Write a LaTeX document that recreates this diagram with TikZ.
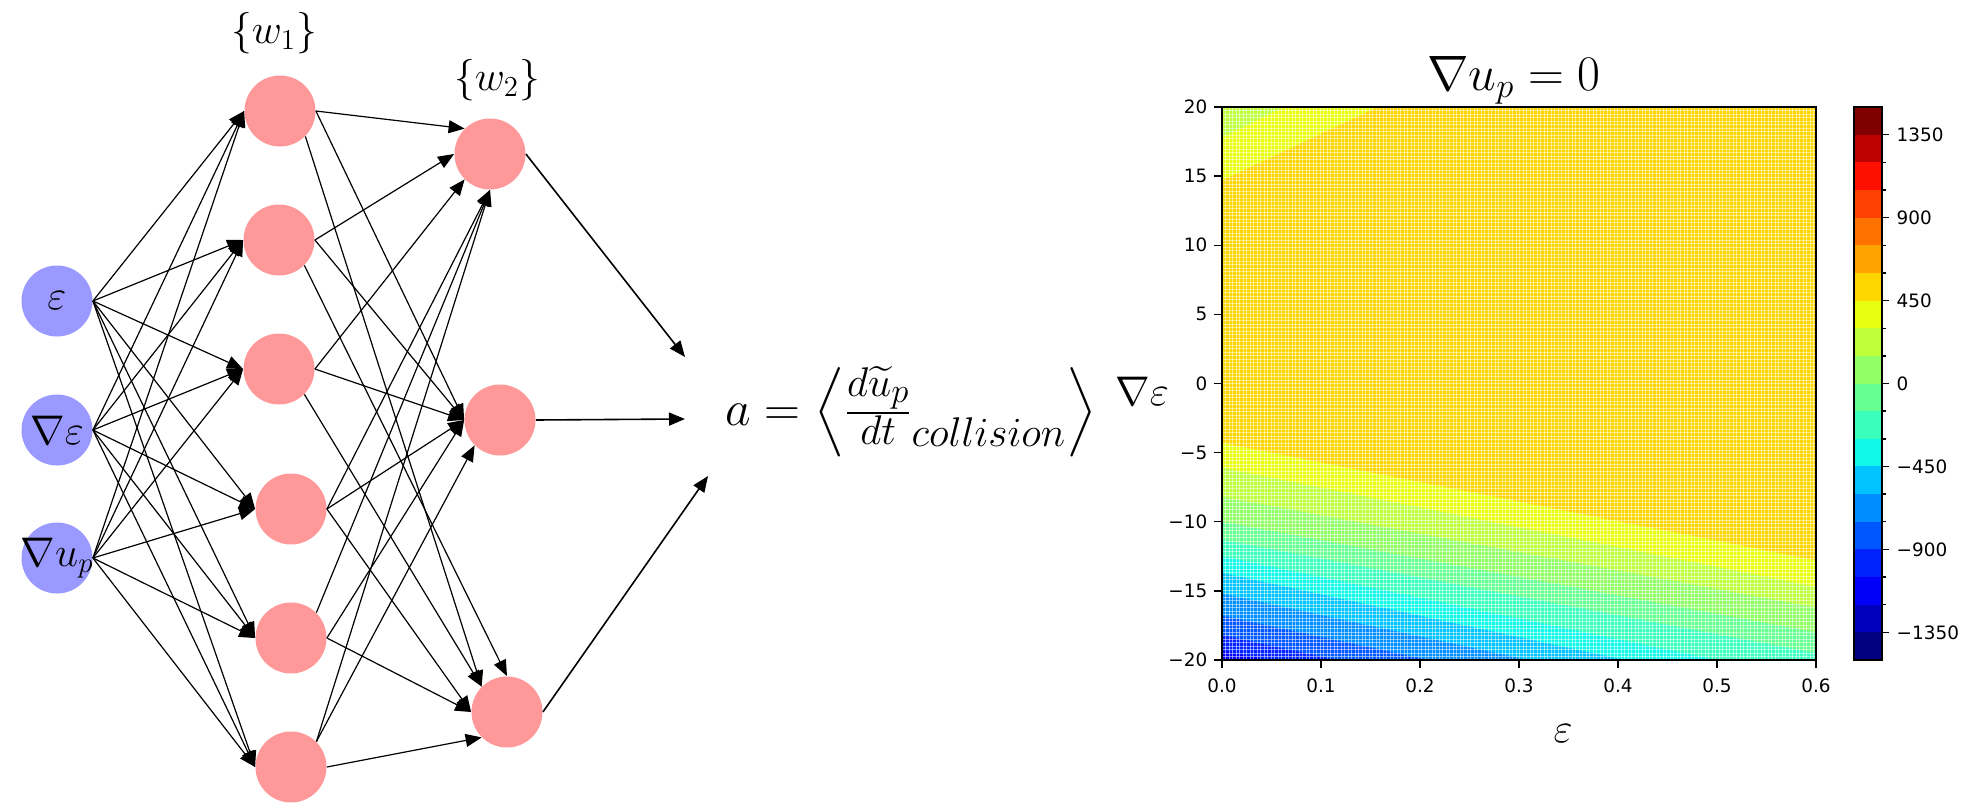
\documentclass[tikz,border=0pt]{standalone}
\usepackage{exscale}
\usepackage{fontspec}
\newfontfamily\tickfont{DejaVu Sans}
\usetikzlibrary{arrows.meta}

\definecolor{inblue}{HTML}{9999FF}
\definecolor{hidpink}{HTML}{FF9999}
% jet levels, -1500 ... 1500 in steps of 150
\definecolor{lev0}{RGB}{0,0,128}
\definecolor{lev1}{RGB}{0,0,188}
\definecolor{lev2}{RGB}{0,0,249}
\definecolor{lev3}{RGB}{0,34,255}
\definecolor{lev4}{RGB}{0,87,255}
\definecolor{lev5}{RGB}{0,141,255}
\definecolor{lev6}{RGB}{0,195,255}
\definecolor{lev7}{RGB}{15,248,232}
\definecolor{lev8}{RGB}{58,255,188}
\definecolor{lev9}{RGB}{102,255,145}
\definecolor{lev10}{RGB}{145,255,102}
\definecolor{lev11}{RGB}{188,255,58}
\definecolor{lev12}{RGB}{232,255,15}
\definecolor{lev13}{RGB}{255,213,0}
\definecolor{lev14}{RGB}{255,163,0}
\definecolor{lev15}{RGB}{255,114,0}
\definecolor{lev16}{RGB}{255,64,0}
\definecolor{lev17}{RGB}{255,15,0}
\definecolor{lev18}{RGB}{189,0,0}
\definecolor{lev19}{RGB}{128,0,0}

\tikzset{
  neuron/.style={circle, minimum size=35.5pt, inner sep=0pt, font=\fontsize{20}{24}\selectfont},
  inp/.style={neuron, fill=inblue},
  hid/.style={neuron, fill=hidpink},
  link/.style={line width=0.6pt, -{Triangle[length=8pt, width=6.5pt]}},
  bigmath/.style={font=\fontsize{#1}{#1}\selectfont, inner sep=0pt},
  ticklab/.style={font=\tickfont\fontsize{9.2}{11}\selectfont, inner sep=0pt},
  axisline/.style={line width=0.7pt},
  dotgap/.style={white, line width=0.45pt, opacity=0.5},
}

\begin{document}
\begin{tikzpicture}[x=0.5pt, y=-0.5pt]
  \useasboundingbox (0,0) rectangle (1970,803);

  % inputs
  \node[inp] (in1) at (57,301) {$\varepsilon$};
  \node[inp] (in2) at (57,430) {$\nabla\varepsilon$};
  \node[inp] (in3) at (57,558) {\makebox[0pt]{$\nabla u_p$}};

  % first hidden layer
  \foreach \n/\x/\y in {1/280/111, 2/279/240, 3/279/369, 4/291/509, 5/291/638, 6/291/767}
    \node[hid] (ha\n) at (\x,\y) {};
  % second hidden layer
  \foreach \n/\x/\y in {1/490/154, 2/500/420, 3/507/712}
    \node[hid] (hb\n) at (\x,\y) {};

  \node[bigmath=21, anchor=base] (w1) at (274,43) {$\{w_1\}$};
  \node[bigmath=21, anchor=base] (w2) at (497,90) {$\{w_2\}$};

  \foreach \i in {1,2,3}
    \foreach \j in {1,...,6}
      \draw[link] (in\i.east) -- (ha\j.west);

  \foreach \i/\j/\s/\t in {1/1/east/north west, 1/2/east/west, 1/3/south east/north west,
                           2/1/east/west, 2/2/east/west, 2/3/south east/north,
                           3/1/east/south west, 3/2/east/west, 3/3/south east/north west,
                           4/1/east/south, 4/2/east/west, 4/3/east/west,
                           5/1/north east/south, 5/2/east/west, 5/3/east/west,
                           6/1/north east/south, 6/2/north east/south west, 6/3/east/south west}
    \draw[link] (ha\i.\s) -- (hb\j.\t);

  % output
  \coordinate (t1) at (685,357);
  \coordinate (t2) at (685,419);
  \coordinate (t3) at (708,476);
  \foreach \n in {1,2,3}
    \draw[link, line width=0.8pt] (hb\n.east) -- (t\n);
  \node[bigmath=24.88, anchor=base] (accel) at (911,425)
    {$a = \left\langle\vrule width 0pt height 24pt depth 12pt
      \frac{d\widetilde{u}_p}{dt}_{collision} \right\rangle$};

  % scatter field
  \begin{scope}[shift={(1222,383.5)}, x=495pt, y=6.9125pt]
    \clip (0,-20) rectangle (0.6,20);
    \fill[lev13] (0,-20) rectangle (0.6,20);
    \fill[lev12] (0,20) -- (0.157,20) -- (0,14.7) -- cycle;
    \fill[lev11] (0,20) -- (0.062,20) -- (0,17.8) -- cycle;
    \foreach \c/\d/\col in {-4.3/-12.8/lev12, -6.1/-14.7/lev11, -8.2/-16.2/lev10,
                            -10.0/-18.0/lev9, -11.3/-19.5/lev8, -12.5/-21.5/lev7,
                            -13.7/-23.0/lev6, -15.2/-24.5/lev5, -16.8/-26.0/lev4,
                            -18.2/-27.5/lev3, -19.3/-28.5/lev2}
      \fill[\col] (0,\c) -- (0.6,\d) -- (0.6,-30) -- (0,-30) -- cycle;
  \end{scope}
  \foreach \k in {1,...,157}
    \draw[dotgap] (1222,{107+3.5*\k}) -- (1816,{107+3.5*\k});
  \foreach \k in {1,...,169}
    \draw[dotgap] ({1222+3.5*\k},107) -- ({1222+3.5*\k},660);

  \begin{scope}[shift={(1222,383.5)}, x=495pt, y=6.9125pt]
    \draw[axisline] (0,-20) rectangle (0.6,20);
    \foreach \v/\lab in {20/20, 15/15, 10/10, 5/5, 0/0, -5/−5, -10/−10, -15/−15, -20/−20}
      \draw[axisline] (0,\v) -- ++(-4pt,0pt) node[ticklab, left=3pt] {\lab};
    \foreach \v in {0.0,0.1,0.2,0.3,0.4,0.5,0.6}
      \draw[axisline] (\v,-20) -- ++(0pt,-4pt) node[ticklab, below=5pt] {\v};
  \end{scope}

  \node[bigmath=23, anchor=base] (title) at (1514,90) {$\nabla u_p = 0$};
  \node[bigmath=21, anchor=base] (ylab) at (1142,405) {$\nabla\varepsilon$};
  \node[bigmath=22, anchor=base] (xlab) at (1563,742) {$\varepsilon$};

  % colour bar
  \begin{scope}[shift={(1854,383.5)}, x=0.5pt, y=0.0921667pt]
    \foreach \i in {0,...,19}
      \fill[lev\i] (0,{-1500+150*\i}) rectangle (28,{-1350+150*\i});
    \draw[axisline] (0,-1500) rectangle (28,1500);
    \foreach \v in {-1350,-1200,...,1350}
      \draw[axisline] (28,\v) -- ++(2pt,0pt);
    \foreach \v/\lab in {-1350/−1350, -900/−900, -450/−450, 0/0, 450/450, 900/900, 1350/1350}
      \draw[axisline] (28,\v) -- ++(3.5pt,0pt) node[ticklab, right=3.5pt] {\lab};
  \end{scope}
\end{tikzpicture}
\end{document}
